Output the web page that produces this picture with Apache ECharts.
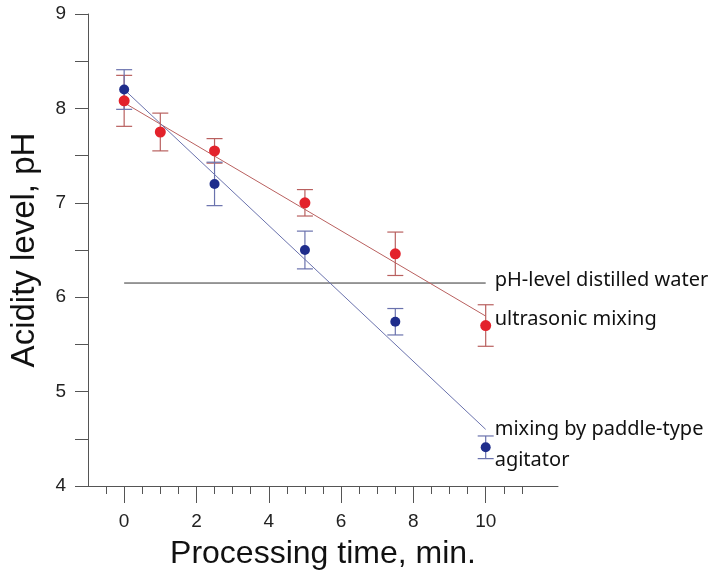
<!DOCTYPE html>
<html>
<head>
<meta charset="utf-8">
<script src="https://cdn.jsdelivr.net/npm/echarts@6/dist/echarts.min.js"></script>
<style>
  html, body { margin: 0; padding: 0; background: #fff; }
  #main { width: 717px; height: 575px; }
</style>
</head>
<body>
<div id="main"></div>
<script>
// измерения
var redX = [0, 1, 2.5, 5, 7.5, 10];
var redY = [8.08, 7.75, 7.55, 7.0, 6.46, 5.7];
var redErr = [0.27, 0.2, 0.13, 0.14, 0.23, 0.22];

var blueX = [0, 2.5, 5, 7.5, 10];
var blueY = [8.2, 7.2, 6.5, 5.74, 4.41];
var blueErr = [0.21, 0.23, 0.2, 0.14, 0.12];

// линии аппроксимации
var redFit = [[0, 8.06], [10, 5.8]];
var blueFit = [[0, 8.2], [10, 4.6]];
var waterLine = [[0, 6.15], [10, 6.15]];

var xMajor = [0, 2, 4, 6, 8, 10];
var xMinor = [-0.5, 0, 0.5, 1, 1.5, 2, 2.5, 3, 3.5, 4, 4.5, 5, 5.5, 6, 6.5, 7, 7.5, 8, 8.5, 9, 9.5, 10, 10.5, 11];

var labelWater = 'pH-level distilled water';
var labelRed = 'ultrasonic mixing';
var labelBlue = 'mixing by paddle-type\nagitator';

var RED = '#e3222b', RED_LINE = '#b9605f';
var BLUE = '#1f2d8c', BLUE_LINE = '#6a72ad';
var AXIS = '#555';
var labelFont = '"Noto Sans", sans-serif';
var axisFont = '"Liberation Sans", Arial, sans-serif';

function pts(xs, ys) {
  return xs.map(function (x, i) { return [x, ys[i]]; });
}
function errData(xs, ys, es) {
  return xs.map(function (x, i) { return [x, ys[i] - es[i], ys[i] + es[i]]; });
}
function errRender(color) {
  return function (params, api) {
    var lo = api.coord([api.value(0), api.value(1)]);
    var hi = api.coord([api.value(0), api.value(2)]);
    var w = 8;
    var st = { stroke: color, lineWidth: 1.2 };
    return {
      type: 'group',
      children: [
        { type: 'line', shape: { x1: lo[0], y1: lo[1], x2: hi[0], y2: hi[1] }, style: st },
        { type: 'line', shape: { x1: lo[0] - w, y1: lo[1], x2: lo[0] + w, y2: lo[1] }, style: st },
        { type: 'line', shape: { x1: hi[0] - w, y1: hi[1], x2: hi[0] + w, y2: hi[1] }, style: st }
      ]
    };
  };
}
function endLabel(text, offset) {
  return {
    show: true, formatter: text, distance: 9, offset: offset,
    color: '#111', fontSize: 20, lineHeight: 31, fontFamily: labelFont
  };
}

var chart = echarts.init(document.getElementById('main'));
var option = {
  animation: false,
  grid: { left: 85, right: 159, top: 14, bottom: 87 },
  xAxis: [
    {
      type: 'value', min: -1, max: 12,
      axisLine: { onZero: false, lineStyle: { color: AXIS, width: 1 } },
      axisTick: { show: true, customValues: xMinor, length: 8, lineStyle: { color: AXIS } },
      axisLabel: { show: false },
      splitLine: { show: false }
    },
    {
      type: 'value', min: -1, max: 12, position: 'bottom',
      axisLine: { show: false, onZero: false },
      axisTick: { show: true, customValues: xMajor, length: 17, lineStyle: { color: AXIS } },
      axisLabel: { customValues: xMajor, fontSize: 19, color: '#222', margin: 26, fontFamily: axisFont },
      splitLine: { show: false },
      name: 'Processing time, min.', nameLocation: 'middle', nameGap: 52,
      nameTextStyle: { fontSize: 32, color: '#111', fontFamily: axisFont }
    }
  ],
  yAxis: {
    type: 'value', min: 4, max: 9, interval: 1,
    axisLine: { show: true, onZero: false, lineStyle: { color: AXIS, width: 1 } },
    axisTick: { show: true, length: 13, lineStyle: { color: AXIS } },
    minorTick: { show: true, splitNumber: 2, length: 13, lineStyle: { color: AXIS } },
    axisLabel: { fontSize: 19, color: '#222', margin: 22, fontFamily: axisFont },
    splitLine: { show: false },
    name: 'Acidity level, pH', nameLocation: 'middle', nameGap: 47,
    nameTextStyle: { fontSize: 33, color: '#111', fontFamily: axisFont }
  },
  series: [
    {
      type: 'line', data: waterLine, symbol: 'none',
      lineStyle: { color: '#333', width: 1 }, z: 2,
      endLabel: endLabel(labelWater, [0, -3])
    },
    {
      type: 'line', data: redFit, symbol: 'none',
      lineStyle: { color: RED_LINE, width: 1 }, z: 2,
      endLabel: endLabel(labelRed, [0, 3])
    },
    {
      type: 'line', data: blueFit, symbol: 'none',
      lineStyle: { color: BLUE_LINE, width: 1 }, z: 2,
      endLabel: endLabel(labelBlue, [0, 15])
    },
    {
      type: 'custom', renderItem: errRender(RED_LINE),
      data: errData(redX, redY, redErr), encode: { x: 0, y: [1, 2] }, z: 3
    },
    {
      type: 'custom', renderItem: errRender(BLUE_LINE),
      data: errData(blueX, blueY, blueErr), encode: { x: 0, y: [1, 2] }, z: 3
    },
    {
      type: 'scatter', data: pts(redX, redY), symbolSize: 11,
      itemStyle: { color: RED, opacity: 1 }, z: 5
    },
    {
      type: 'scatter', data: pts(blueX, blueY), symbolSize: 10,
      itemStyle: { color: BLUE, opacity: 1 }, z: 6
    }
  ]
};
chart.setOption(option);
</script>
</body>
</html>
